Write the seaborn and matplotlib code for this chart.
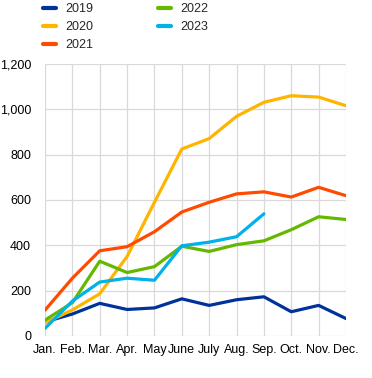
import pandas as pd
import matplotlib
matplotlib.use('Agg')
import matplotlib.pyplot as plt
import seaborn as sns

# Dados mensais
meses = ['Jan.', 'Feb.', 'Mar.', 'Apr.', 'May', 'June', 'July', 'Aug.', 'Sep.', 'Oct.', 'Nov.', 'Dec.']
v2019 = [62, 97, 144, 117, 124, 164, 135, 160, 173, 107, 135, 77]
v2020 = [58, 115, 186, 351, 590, 825, 871, 969, 1031, 1060, 1054, 1016]
v2021 = [114, 255, 376, 394, 460, 547, 590, 627, 636, 613, 656, 619]
v2022 = [70, 147, 330, 280, 306, 396, 373, 403, 420, 469, 526, 514]
v2023 = [34, 154, 238, 255, 246, 398, 414, 438, 539]
anos = ['2019', '2020', '2021', '2022', '2023']
cores = ['#003299', '#FFB400', '#FF4B00', '#65B800', '#00B1EA']

series = [v2019, v2020, v2021, v2022, v2023]
linhas = []
for ano, vals in zip(anos, series):
    for i, v in enumerate(vals):
        linhas.append({'mes': i, 'ano': ano, 'valor': v})
df = pd.DataFrame(linhas)

sns.set_style('white')
plt.rcParams['font.family'] = ['Liberation Sans', 'DejaVu Sans']

fig = plt.figure(figsize=(3.72, 3.78), dpi=100)
ax = fig.add_axes([45 / 372, 1 - 336 / 378, 301 / 372, 272 / 378])

sns.lineplot(data=df, x='mes', y='valor', hue='ano', palette=dict(zip(anos, cores)),
             linewidth=2.3, ax=ax, legend=False)

ax.set_xlim(0, 11)
ax.set_ylim(0, 1200)
ax.set_xticks(range(12))
ax.set_xticklabels(meses)
ax.set_yticks(range(0, 1201, 200))
ax.set_yticklabels([f'{v:,}' for v in range(0, 1201, 200)])
ax.set_xlabel('')
ax.set_ylabel('')
ax.grid(True, color='#d9d9d9', linewidth=0.9)
ax.set_axisbelow(True)
for s in ax.spines.values():
    s.set_visible(False)
ax.tick_params(axis='both', length=0, labelsize=9, colors='black')
ax.tick_params(axis='x', pad=6)
ax.tick_params(axis='y', pad=10)

# Legenda
handles = [plt.Line2D([], [], color=c, linewidth=3) for c in cores]
leg = fig.legend(handles, anos, loc='upper left', bbox_to_anchor=(43 / 372, 1 - 3 / 378), ncol=2,
                 frameon=False, fontsize=9, handlelength=1.05, handletextpad=0.72,
                 columnspacing=5.2, labelspacing=0.5, borderpad=0, borderaxespad=0)

fig.savefig('out.png', dpi=100)
